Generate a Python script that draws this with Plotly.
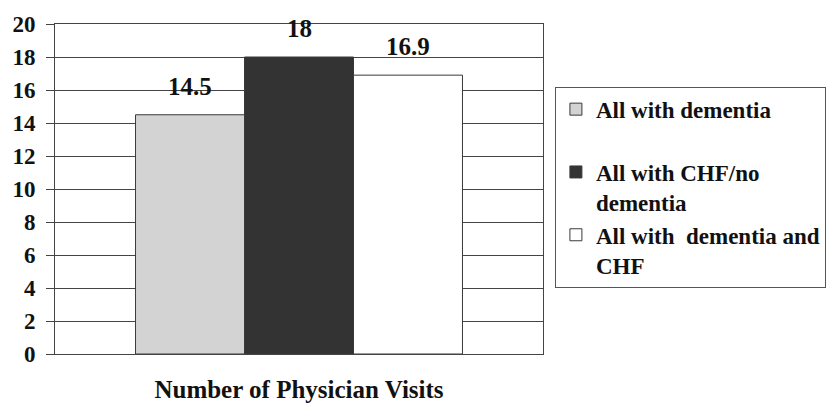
import plotly.graph_objects as go

# Mean number of physician visits by patient group
categories = ["Number of Physician Visits"]
groups = ["All with dementia", "All with CHF/no dementia", "All with dementia and CHF"]
legend_labels = [
    "All with dementia<br>&nbsp;",
    "All with CHF/no<br>dementia",
    "All with&nbsp; dementia and<br>CHF",
]
visits = [14.5, 18, 16.9]
fills = ["#d3d3d3", "#333333", "#ffffff"]

FONT = "Liberation Serif, Times New Roman, serif"
BARGAP = 0.33

fig = go.Figure()
for label, val, col in zip(legend_labels, visits, fills):
    fig.add_trace(go.Bar(
        x=categories,
        y=[val],
        name=f"<b>{label}</b>",
        marker=dict(color=col, line=dict(color="#3a3a3a", width=1)),
        hoverinfo="y",
    ))

# Value labels above each bar, centred on the bar's slot within the group
n = len(visits)
slot = (1 - BARGAP) / n
for i, val in enumerate(visits):
    fig.add_annotation(
        x=(i - (n - 1) / 2) * slot,
        y=val,
        xref="x",
        yref="y",
        text=f"<b>{val:g}</b>",
        showarrow=False,
        yanchor="bottom",
        yshift=13,
        font=dict(family=FONT, size=25, color="#111111"),
    )

fig.update_layout(
    width=838,
    height=411,
    margin=dict(l=54, r=292, t=12, b=57),
    paper_bgcolor="white",
    plot_bgcolor="white",
    barmode="group",
    bargap=BARGAP,
    bargroupgap=0,
    font=dict(family=FONT, color="#111111"),
    showlegend=True,
    legend=dict(
        x=1.0244,
        y=0.81,
        xanchor="left",
        yanchor="top",
        bordercolor="#555555",
        borderwidth=1,
        bgcolor="white",
        valign="top",
        font=dict(family=FONT, size=23, color="#111111"),
        tracegroupgap=0,
    ),
    xaxis=dict(
        showticklabels=False,
        ticks="",
        showline=True,
        linecolor="#444444",
        linewidth=1,
        mirror=True,
        title=dict(text=f"<b>{categories[0]}</b>", font=dict(family=FONT, size=25, color="#111111"), standoff=26),
    ),
    yaxis=dict(
        range=[0, 20],
        dtick=2,
        tickformat="d",
        tickprefix="<b>",
        ticksuffix="</b>",
        ticks="outside",
        ticklen=8,
        tickcolor="#444444",
        showgrid=True,
        gridcolor="#444444",
        gridwidth=1,
        showline=True,
        linecolor="#444444",
        linewidth=1,
        mirror=True,
        zeroline=False,
        tickfont=dict(family=FONT, size=23, color="#111111"),
        ticklabelstandoff=6,
    ),
)

fig.write_html("out.html")
